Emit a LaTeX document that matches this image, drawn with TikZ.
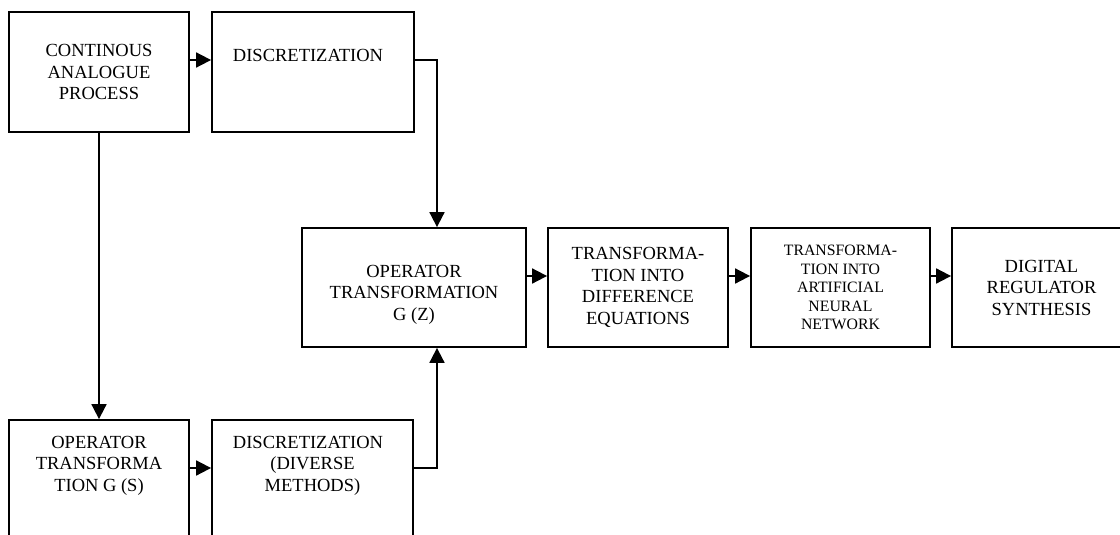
\documentclass[tikz,border=0pt]{standalone}
\usepackage{fontspec}
\setmainfont{Liberation Serif}
\usetikzlibrary{arrows.meta}

\tikzset{
  block/.style={draw, line width=1.8pt, minimum width=179pt, minimum height=120pt,
    inner sep=0pt, align=center, font=\fontsize{18.5}{21.5}\selectfont},
  flow/.style={line width=1.8pt, -{Triangle[length=15pt,width=15pt]}},
}

\begin{document}
\begin{tikzpicture}[x=1pt,y=-1pt]

% Fix the frame of the page
\clip (0,0) rectangle (1120,535);

% Draw the upper row of boxes
\node[block, minimum width=180pt] (analog) at (99,72) {CONTINOUS\\ANALOGUE\\PROCESS};
\node[block, minimum width=202pt, text height=10pt, text depth=30pt] (discr) at (313,72) {DISCRETIZATION\hspace*{10pt}};

% Draw the lower row of boxes (cut by the page edge)
\node[block, minimum width=180pt, text height=50pt, text depth=28pt] (ops) at (99,480) {OPERATOR\\TRANSFORMA\\TION G (S)};
\node[block, minimum width=201pt, text height=50pt, text depth=28pt] (methods) at (312.5,480) {DISCRETIZATION\hspace*{9pt}\\(DIVERSE\hspace*{4pt}\\METHODS)};

% Draw the middle chain of boxes
\node[block, minimum width=224pt, minimum height=119pt, text height=70pt, text depth=5pt] (opz) at (414,287.5) {OPERATOR\\TRANSFORMATION\\G (Z)};
\node[block, minimum width=180pt, minimum height=119pt] (diffeq) at (638,287.5) {TRANSFORMA-\\TION INTO\\DIFFERENCE\\EQUATIONS};
\node[block, minimum height=119pt, font=\fontsize{15.8}{18.5}\selectfont] (ann) at (840.5,287.5) {TRANSFORMA-\\TION INTO\\ARTIFICIAL\\NEURAL\\NETWORK};
\node[block, minimum height=119pt] (synth) at (1041.5,287.5) {DIGITAL\\REGULATOR\\SYNTHESIS};

% Draw the connectors
\draw[flow] ([yshift=12pt]analog.east) -- ([yshift=12pt]discr.west);
\draw[flow] ([yshift=12pt]discr.east) -| ([xshift=23pt]opz.north);
\draw[flow] (analog.south) -- (analog.south |- ops.north);
\draw[flow] ([yshift=12pt]ops.east) -- ([yshift=12pt]methods.west);
\draw[flow] ([yshift=12pt]methods.east) -| ([xshift=23pt]opz.south);
\draw[flow] ([yshift=11.5pt]opz.east) -- ([yshift=11.5pt]diffeq.west);
\draw[flow] ([yshift=11.5pt]diffeq.east) -- ([yshift=11.5pt]ann.west);
\draw[flow] ([yshift=11.5pt]ann.east) -- ([yshift=11.5pt]synth.west);

\end{tikzpicture}
\end{document}
